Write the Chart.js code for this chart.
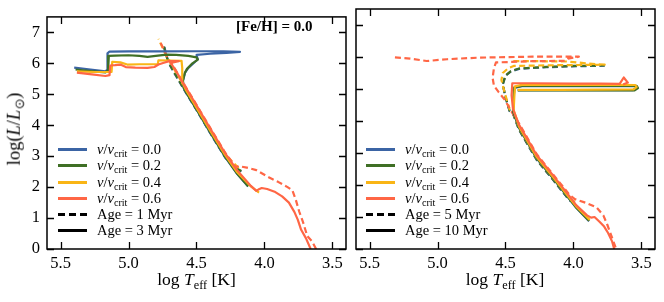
<!DOCTYPE html>
<html><head><meta charset="utf-8">
<script src="https://cdn.jsdelivr.net/npm/chart.js@4.4.1/dist/chart.umd.min.js"></script>
<style>
html,body{margin:0;padding:0;background:#fff;}
#wrap{position:relative;width:664px;height:302px;overflow:hidden;font-family:'Liberation Serif','Times New Roman',serif;color:#000;}
canvas{position:absolute;top:0;}
#c1{left:0;} #c2{left:350px;}
.t{position:absolute;white-space:nowrap;line-height:1;}
.row{position:absolute;height:16px;white-space:nowrap;font-size:14.5px;}
.sw{position:absolute;left:0;top:7px;width:29px;height:3px;}
.lab{position:absolute;left:39px;top:0;line-height:16px;}
sub{font-size:70%;vertical-align:baseline;position:relative;top:0.3em;line-height:0;}
</style></head><body>
<div id="wrap">
<canvas id="c1" width="350" height="302"></canvas>
<canvas id="c2" width="314" height="302"></canvas>
</div>
<script>
// ---------- DATA ----------
const xTicks = [5.5, 5.0, 4.5, 4.0, 3.5];
const yTicks = [0, 1, 2, 3, 4, 5, 6, 7];
const rotations = ['0.0', '0.2', '0.4', '0.6'];
const colors = ['#3B64A4', '#3F6F25', '#F9B516', '#FF6645'];
const leftAges = ['1 Myr', '3 Myr'];
const rightAges = ['5 Myr', '10 Myr'];
const feh = '0.0';

// Left panel, Age = 1 Myr (dashed)  [logTeff, logL]
const L1_v00 = [[4.17,2.50],[4.22,2.62],[4.29,2.96],[4.40,3.75],[4.50,4.49],[4.60,5.21],[4.66,5.66],[4.70,5.97],[4.725,6.30],[4.74,6.62]];
const L1_v02 = [[4.17,2.52],[4.22,2.64],[4.29,2.98],[4.40,3.77],[4.50,4.51],[4.60,5.23],[4.66,5.68],[4.705,6.02],[4.73,6.35],[4.745,6.64]];
const L1_v04 = [[4.19,2.62],[4.29,3.06],[4.40,3.86],[4.50,4.60],[4.60,5.33],[4.66,5.78],[4.72,6.22],[4.78,6.79]];
const L1_v06 = [[3.62,0.0],[3.65,0.25],[3.685,0.42],[3.715,0.85],[3.745,1.22],[3.77,1.60],[3.795,1.90],[3.83,2.00],[3.90,2.17],[3.965,2.31],[4.06,2.55],[4.13,2.63],[4.19,2.68],[4.21,2.64],[4.29,3.12],[4.40,3.92],[4.50,4.66],[4.60,5.39],[4.66,5.83],[4.71,6.16],[4.77,6.72]];

// Left panel, Age = 3 Myr (solid)
const L3_v00 = [[4.12,2.02],[4.20,2.42],[4.29,2.98],[4.40,3.77],[4.50,4.51],[4.57,5.01],[4.595,5.21],[4.60,5.43],[4.585,5.69],[4.56,5.85],[4.52,6.01],[4.49,6.13],[4.50,6.27],[4.40,6.31],[4.28,6.34],[4.18,6.37],[4.30,6.385],[4.50,6.39],[4.80,6.385],[5.00,6.385],[5.14,6.38],[5.155,6.32],[5.155,5.80],[5.17,5.74],[5.28,5.80],[5.40,5.86]];
const L3_v02 = [[4.12,2.03],[4.20,2.43],[4.29,2.99],[4.40,3.78],[4.50,4.52],[4.57,5.02],[4.595,5.22],[4.60,5.44],[4.585,5.70],[4.57,5.82],[4.53,6.00],[4.49,6.12],[4.50,6.19],[4.56,6.24],[4.65,6.27],[4.72,6.28],[4.80,6.24],[4.86,6.21],[4.92,6.24],[5.00,6.26],[5.10,6.25],[5.145,6.24],[5.15,5.78],[5.17,5.71],[5.28,5.75],[5.39,5.80]];
const L3_v04 = [[4.04,1.82],[4.10,2.02],[4.20,2.48],[4.29,3.04],[4.40,3.83],[4.50,4.57],[4.58,5.16],[4.60,5.35],[4.605,5.60],[4.605,5.85],[4.61,6.08],[4.70,6.09],[4.78,6.10],[4.785,5.97],[4.85,5.97],[4.92,5.97],[5.01,5.96],[5.06,6.03],[5.12,6.05],[5.125,5.72],[5.25,5.72],[5.38,5.74]];
const L3_v06 = [[3.66,0.0],[3.695,0.35],[3.73,0.62],[3.755,0.95],[3.78,1.20],[3.82,1.50],[3.87,1.70],[3.92,1.84],[3.98,1.94],[4.02,1.97],[4.045,1.92],[4.06,1.88],[4.08,1.96],[4.10,2.04],[4.20,2.54],[4.29,3.10],[4.40,3.90],[4.50,4.64],[4.60,5.37],[4.66,5.82],[4.69,6.01],[4.63,6.07],[4.70,6.07],[4.74,6.02],[4.78,5.96],[4.81,5.88],[4.86,5.85],[4.95,5.86],[5.02,5.88],[5.06,5.96],[5.10,5.94],[5.135,5.93],[5.14,5.62],[5.17,5.59],[5.27,5.64],[5.38,5.70]];

// Right panel, Age = 5 Myr (dashed)
const R5_v00 = [[3.99,1.44],[4.03,1.52],[4.15,2.16],[4.27,2.78],[4.40,3.72],[4.445,4.23],[4.47,4.31],[4.50,4.74],[4.52,5.14],[4.50,5.41],[4.46,5.55],[4.40,5.63],[4.20,5.68],[4.00,5.71],[3.85,5.72],[3.77,5.73]];
const R5_v02 = [[3.99,1.45],[4.03,1.53],[4.15,2.17],[4.27,2.79],[4.40,3.73],[4.445,4.24],[4.47,4.32],[4.50,4.75],[4.52,5.15],[4.50,5.42],[4.46,5.56],[4.40,5.64],[4.20,5.69],[4.00,5.72],[3.85,5.73],[3.77,5.74]];
const R5_v04 = [[3.99,1.48],[4.03,1.57],[4.15,2.21],[4.27,2.83],[4.40,3.77],[4.445,4.28],[4.47,4.36],[4.505,4.87],[4.53,5.28],[4.52,5.50],[4.48,5.65],[4.44,5.72],[4.20,5.74],[3.95,5.75],[3.77,5.76],[3.90,5.80],[4.05,5.86],[4.30,5.87],[4.45,5.87]];
const R5_v06 = [[3.69,0.05],[3.75,0.75],[3.78,1.05],[3.83,1.30],[3.90,1.43],[3.99,1.56],[4.03,1.70],[4.15,2.33],[4.27,2.96],[4.40,3.92],[4.45,4.25],[4.47,4.40],[4.505,4.66],[4.55,4.90],[4.585,5.10],[4.595,5.35],[4.585,5.65],[4.57,5.83],[4.30,5.87],[4.06,5.88],[4.04,5.95],[3.96,6.01],[4.30,6.01],[4.70,5.98],[4.93,5.93],[5.08,5.875],[5.20,5.95],[5.32,5.99]];

// Right panel, Age = 10 Myr (solid)
const R10_v00 = [[3.885,0.87],[3.98,1.29],[4.03,1.56],[4.15,2.21],[4.27,2.83],[4.40,3.78],[4.445,4.30],[4.44,4.71],[4.435,5.03],[4.38,5.09],[4.00,5.09],[3.70,5.09],[3.545,5.09],[3.535,5.03],[3.56,4.965],[3.80,4.965],[4.10,4.965],[4.41,4.965]];
const R10_v02 = [[3.885,0.88],[3.98,1.30],[4.03,1.57],[4.15,2.22],[4.27,2.84],[4.40,3.79],[4.445,4.31],[4.44,4.72],[4.435,5.05],[4.38,5.10],[4.00,5.10],[3.70,5.10],[3.535,5.10],[3.525,5.03],[3.55,4.955],[3.80,4.955],[4.10,4.955],[4.41,4.955]];
const R10_v04 = [[3.88,0.91],[3.98,1.33],[4.03,1.60],[4.15,2.25],[4.27,2.87],[4.40,3.82],[4.44,4.34],[4.435,4.75],[4.43,5.08],[4.38,5.13],[4.00,5.13],[3.70,5.13],[3.545,5.125],[3.535,5.06],[3.56,4.985],[3.80,4.98],[4.10,4.975],[4.41,4.975]];
const R10_v06 = [[3.70,0.0],[3.715,0.23],[3.745,0.50],[3.774,0.70],[3.81,0.86],[3.845,1.00],[3.87,0.98],[3.90,1.05],[3.98,1.37],[4.03,1.65],[4.15,2.30],[4.27,2.93],[4.40,3.88],[4.445,4.38],[4.455,4.80],[4.45,5.18],[4.30,5.18],[4.00,5.17],[3.80,5.165],[3.66,5.16],[3.63,5.36],[3.60,5.20],[3.635,5.14]];

// ---------- CHART ----------
const FONT = "'Liberation Serif','Times New Roman',serif";
function ds(points, color, dashed){
  return {data: points.map(p=>({x:p[0], y:p[1]})), showLine:true, borderColor:color,
    borderWidth:2.2, borderDash: dashed?[6,3.5]:[], pointRadius:0, pointHoverRadius:0,
    fill:false, tension:0, borderJoinStyle:'round', borderCapStyle:'butt'};
}
const frame = {
  id:'frame',
  afterDraw(chart){
    const {ctx, chartArea:a, scales:{x, y}} = chart;
    ctx.save();
    ctx.strokeStyle = '#000';
    ctx.lineWidth = 1.3;
    ctx.beginPath();
    xTicks.forEach(v=>{ const p = Math.round(x.getPixelForValue(v))+0.5;
      ctx.moveTo(p, a.bottom); ctx.lineTo(p, a.bottom-7);
      ctx.moveTo(p, a.top); ctx.lineTo(p, a.top+7); });
    yTicks.forEach(v=>{ const p = Math.round(y.getPixelForValue(v))+0.5;
      ctx.moveTo(a.left, p); ctx.lineTo(a.left+7, p);
      ctx.moveTo(a.right, p); ctx.lineTo(a.right-7, p); });
    ctx.stroke();
    ctx.lineWidth = 1.5;
    ctx.strokeRect(a.left, a.top, a.right-a.left, a.bottom-a.top);
    ctx.restore();
  }
};
function makeChart(id, dashedSets, solidSets, showY, padRight, yWidth){
  // bottom-to-top drawing order; Chart.js paints dataset 0 last (on top), so reverse
  const stack = [];
  dashedSets.forEach((s,i)=>stack.push(ds(s, colors[i], true)));
  solidSets.forEach((s,i)=>stack.push(ds(s, colors[i], false)));
  const datasets = stack.reverse();
  return new Chart(document.getElementById(id), {
    type:'scatter',
    data:{datasets},
    options:{
      responsive:false, animation:false, events:[],
      layout:{autoPadding:false, padding:{top:9, right:padRight, left:0, bottom:0}},
      plugins:{legend:{display:false}, tooltip:{enabled:false}},
      scales:{
        x:{type:'linear', reverse:true, min:3.4, max:5.6,
          afterBuildTicks:s=>{ s.ticks = xTicks.map(v=>({value:v})); },
          afterFit:s=>{ s.height = 53; },
          grid:{display:false, drawTicks:false, tickLength:0}, border:{display:false},
          ticks:{color:'#000', font:{family:FONT, size:16.5}, padding:5, maxRotation:0, autoSkip:false,
            callback:v=>Number(v).toFixed(1)}},
        y:{type:'linear', min:0, max:7.5,
          afterBuildTicks:s=>{ s.ticks = yTicks.map(v=>({value:v})); },
          afterFit:s=>{ s.width = yWidth; },
          grid:{display:false, drawTicks:false, tickLength:0}, border:{display:false},
          ticks:{display:showY, color:'#000', font:{family:FONT, size:16.5}, padding:7, autoSkip:false,
            callback:v=>String(v)}}
      }
    },
    plugins:[frame]
  });
}
makeChart('c1', [L1_v00, L1_v02, L1_v04, L1_v06], [L3_v00, L3_v02, L3_v04, L3_v06], true, 4, 47);
makeChart('c2', [R5_v00, R5_v02, R5_v04, R5_v06], [R10_v00, R10_v02, R10_v04, R10_v06], false, 9, 6);

// ---------- TEXT OVERLAYS ----------
const wrap = document.getElementById('wrap');
function addText(html, css){ const d = document.createElement('div'); d.className='t'; d.innerHTML = html; Object.assign(d.style, css); wrap.appendChild(d); return d; }
function addLegend(x0, ages){
  const rowsY = [141, 157, 173.5, 189.5, 205.5, 221.5];
  rotations.forEach((r,i)=>{
    const row = document.createElement('div'); row.className='row';
    row.style.left = x0+'px'; row.style.top = rowsY[i]+'px';
    row.innerHTML = '<div class="sw" style="background:'+colors[i]+'"></div><div class="lab"><i>v</i>/<i>v</i><sub>crit</sub> = '+r+'</div>';
    wrap.appendChild(row);
  });
  ages.forEach((a,j)=>{
    const row = document.createElement('div'); row.className='row';
    row.style.left = x0+'px'; row.style.top = rowsY[4+j]+'px';
    const bg = j===0 ? 'repeating-linear-gradient(90deg,#000 0 7px,transparent 7px 11px)' : '#000';
    row.innerHTML = '<div class="sw" style="background:'+bg+'"></div><div class="lab">Age = '+a+'</div>';
    wrap.appendChild(row);
  });
}
addLegend(58, leftAges);
addLegend(366, rightAges);
addText('<b>[Fe/H] = '+feh+'</b>', {left:'236px', top:'19px', fontSize:'15px'});
addText('log <i>T</i><sub>eff</sub> [K]', {left:'196.5px', top:'271px', fontSize:'17.5px', transform:'translateX(-50%)'});
addText('log <i>T</i><sub>eff</sub> [K]', {left:'505px', top:'271px', fontSize:'17.5px', transform:'translateX(-50%)'});
addText('log(<i>L</i>/<i>L</i><sub>\u2299</sub>)', {left:'14px', top:'129px', fontSize:'18.5px', fontWeight:'normal', transform:'translate(-50%,-50%) rotate(-90deg)'});
</script>
</body></html>
